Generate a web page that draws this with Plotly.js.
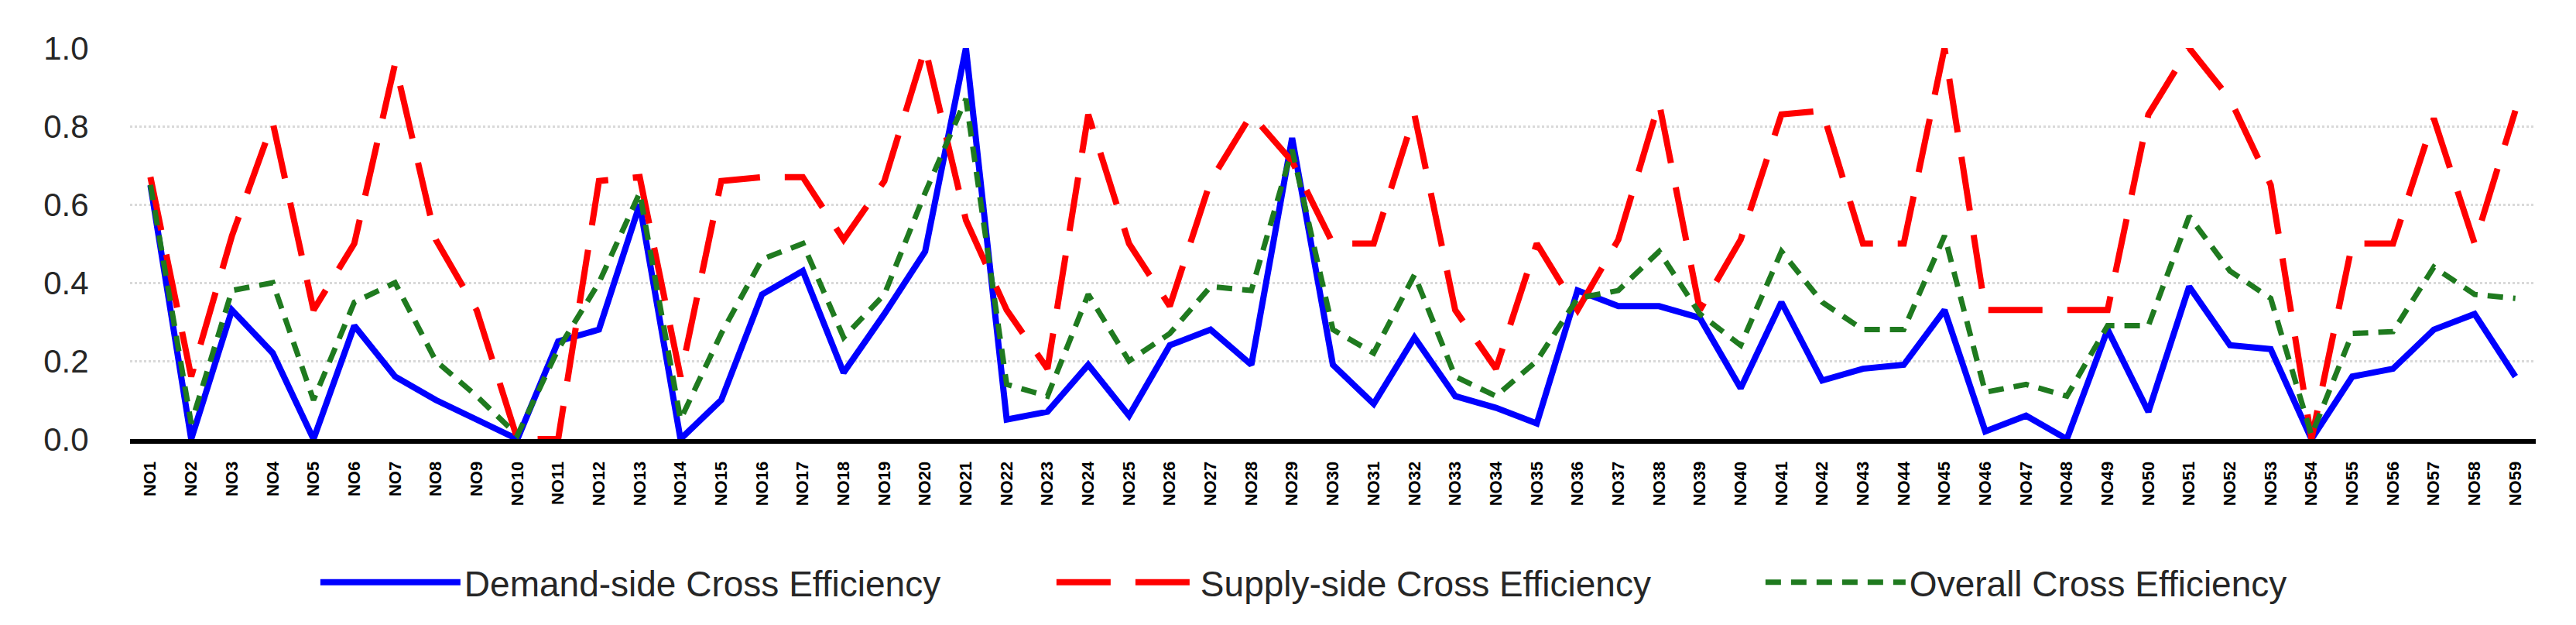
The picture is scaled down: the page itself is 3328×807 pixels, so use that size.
<!DOCTYPE html>
<html>
<head>
<meta charset="utf-8">
<script src="https://cdn.plot.ly/plotly-3.0.1.min.js"></script>
<style>
  html, body { margin: 0; padding: 0; background: #ffffff; }
  #chart { width: 3328px; height: 807px; }
</style>
</head>
<body>
<div id="chart"></div>
<script>
// ---- data ----
const categories = [];
for (let i = 1; i <= 59; i++) categories.push('NO' + i);

const demandSide = [
  0.65, 0.00, 0.33, 0.22, 0.00, 0.29, 0.16, 0.10, 0.05, 0.00,
  0.25, 0.28, 0.60, 0.00, 0.10, 0.37, 0.43, 0.17, 0.32, 0.48,
  1.00, 0.05, 0.07, 0.19, 0.06, 0.24, 0.28, 0.19, 0.77, 0.19,
  0.09, 0.26, 0.11, 0.08, 0.04, 0.38, 0.34, 0.34, 0.31, 0.13,
  0.35, 0.15, 0.18, 0.19, 0.33, 0.02, 0.06, 0.00, 0.28, 0.07,
  0.39, 0.24, 0.23, 0.00, 0.16, 0.18, 0.28, 0.32, 0.16
];

const supplySide = [
  0.67, 0.16, 0.52, 0.81, 0.33, 0.50, 0.96, 0.51, 0.33, 0.00,
  0.00, 0.66, 0.67, 0.16, 0.66, 0.67, 0.67, 0.51, 0.66, 1.00,
  0.56, 0.33, 0.18, 0.83, 0.50, 0.34, 0.66, 0.83, 0.71, 0.50,
  0.50, 0.83, 0.33, 0.18, 0.50, 0.33, 0.51, 0.86, 0.33, 0.51,
  0.83, 0.84, 0.50, 0.50, 1.00, 0.33, 0.33, 0.33, 0.33, 0.83,
  1.00, 0.87, 0.65, 0.00, 0.50, 0.50, 0.82, 0.50, 0.84
];

const overall = [
  0.65, 0.04, 0.38, 0.40, 0.10, 0.35, 0.40, 0.20, 0.11, 0.01,
  0.23, 0.40, 0.63, 0.05, 0.27, 0.46, 0.50, 0.26, 0.37, 0.63,
  0.87, 0.14, 0.11, 0.37, 0.20, 0.27, 0.39, 0.38, 0.74, 0.28,
  0.22, 0.42, 0.16, 0.11, 0.20, 0.36, 0.38, 0.48, 0.32, 0.24,
  0.48, 0.35, 0.28, 0.28, 0.52, 0.12, 0.14, 0.11, 0.29, 0.29,
  0.57, 0.43, 0.36, 0.01, 0.27, 0.275, 0.44, 0.37, 0.36
];

const yTickValues = [0, 0.2, 0.4, 0.6, 0.8, 1.0];
const yTickLabels = ['0.0', '0.2', '0.4', '0.6', '0.8', '1.0'];

const seriesNames = [
  'Demand-side Cross Efficiency',
  'Supply-side Cross Efficiency',
  'Overall Cross Efficiency'
];

// ---- traces ----
const traces = [
  {
    type: 'scatter', mode: 'lines', name: seriesNames[0],
    x: categories, y: demandSide, cliponaxis: false,
    legendwidth: 755,
    line: { color: '#0000ff', width: 8 }
  },
  {
    type: 'scatter', mode: 'lines', name: seriesNames[1],
    x: categories, y: supplySide, cliponaxis: false,
    legendwidth: 720,
    line: { color: '#ff0000', width: 8, dash: '70px,32px' }
  },
  {
    type: 'scatter', mode: 'lines', name: seriesNames[2],
    x: categories, y: overall, cliponaxis: false,
    line: { color: '#1f7a1f', width: 7, dash: '20px,13px' }
  }
];

const layout = {
  width: 3328, height: 807,
  paper_bgcolor: '#ffffff', plot_bgcolor: '#ffffff',
  margin: { l: 168, r: 52, t: 62, b: 240 },
  font: { family: 'Liberation Sans, Arial, sans-serif', color: '#262626' },
  showlegend: true,
  legend: {
    orientation: 'h',
    x: 0.0775, xanchor: 'left',
    y: -0.366, yanchor: 'middle',
    font: { size: 46, color: '#262626', family: 'Liberation Sans, Arial, sans-serif' },
    itemwidth: 181,
    tracegroupgap: 0,
    bgcolor: 'rgba(0,0,0,0)'
  },
  xaxis: {
    type: 'category',
    categoryorder: 'array', categoryarray: categories,
    range: [-0.5, categories.length - 0.5],
    showline: true, linecolor: '#000000', linewidth: 6,
    showgrid: false, zeroline: false,
    ticks: 'outside', ticklen: 14, tickcolor: 'rgba(0,0,0,0)',
    tickangle: -90,
    tickfont: { size: 22, color: '#000000', weight: 'bold', family: 'Liberation Sans, Arial, sans-serif' },
    automargin: false, fixedrange: true
  },
  yaxis: {
    range: [0, 1.0],
    tickvals: yTickValues, ticktext: yTickLabels,
    showline: false, zeroline: false,
    showgrid: true, gridcolor: '#d9d9d9', gridwidth: 3, griddash: 'dot',
    ticks: 'outside', ticklen: 44, tickcolor: 'rgba(0,0,0,0)',
    tickfont: { size: 42, color: '#262626', family: 'Liberation Sans, Arial, sans-serif' },
    automargin: false, fixedrange: true
  }
};

Plotly.newPlot('chart', traces, layout, { staticPlot: true, displayModeBar: false });
</script>
</body>
</html>
